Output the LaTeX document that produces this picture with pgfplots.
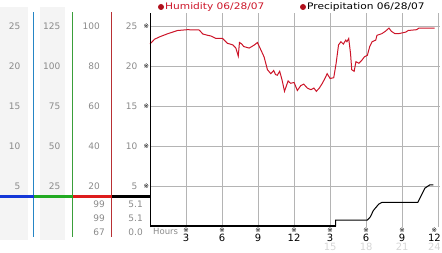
\documentclass[border=0pt]{standalone}
\usepackage{pgfplots}
\pgfplotsset{compat=1.18}
\usepackage{graphicx}
\usepackage{fontspec}
\setmainfont{DejaVu Sans}
\definecolor{hum}{HTML}{CC1428}
\definecolor{panelgray}{HTML}{F4F4F4}
\definecolor{labgray}{HTML}{8A8A8A}
\definecolor{lightlab}{HTML}{D6D6D6}
\definecolor{gridgray}{HTML}{B4B4B4}
\definecolor{vblue}{HTML}{2585C5}
\definecolor{vgreen}{HTML}{3A9E3A}
\definecolor{vred}{HTML}{B83034}
\definecolor{hblue}{HTML}{1438D8}
\definecolor{hgreen}{HTML}{22AA22}
\definecolor{hred}{HTML}{DD1C1C}
\definecolor{ball}{HTML}{B0101C}
\newcommand{\refmk}{{\fontsize{6.5}{6.5}\selectfont ※}}
\begin{document}
\begin{tikzpicture}
\useasboundingbox (0pt,0pt) rectangle (442pt,253pt);
\begin{scope}[x=1pt,y=1pt]
% left panel
\fill[panelgray] (0,13) rectangle (28,246);
\fill[panelgray] (40,13) rectangle (65,246);
\draw[vblue, line width=1pt] (33.5,16) -- (33.5,241);
\draw[vgreen, line width=1pt] (72.5,16) -- (72.5,241);
\draw[vred, line width=1pt] (111.5,16) -- (111.5,241);
\draw[hblue, line width=2.5pt] (0,56.5) -- (33.5,56.5);
\draw[hgreen, line width=2.5pt] (33.5,56.5) -- (72.5,56.5);
\draw[hred, line width=2.5pt] (72.5,56.5) -- (111.5,56.5);
\draw[black, line width=2.5pt] (111.5,56.5) -- (150,56.5);
\tikzset{lab/.style={font=\fontsize{9}{9}\selectfont, text=labgray, inner sep=0pt, anchor=east}}
\foreach \a/\b/\c/\d/\yy in {25/125/100/25/226.5, 20/100/80/20/186.5, 15/75/60/15/146.5, 10/50/40/10/106.5, 5/25/20/5/66.5}{
  \node[lab] at (20.5,\yy) {\a};
  \node[lab] at (60.5,\yy) {\b};
  \node[lab] at (100,\yy) {\c};
  \node[lab] at (137.5,\yy) {\d};
}
\foreach \p/\q/\yy in {99/5.1/49, 99/5.1/34.7, 67/0.0/21}{
  \node[lab] at (105,\yy) {\p};
  \node[lab] at (143,\yy) {\q};
}
% titles
\fill[ball] (161,246) circle (3);
\node[anchor=base west, inner sep=0pt, text=hum, font=\fontsize{9}{9}\selectfont] at (165,243.3) {\scalebox{1.18}[1]{Humidity 06/28/07}};
\fill[ball] (303,246) circle (3);
\node[anchor=base west, inner sep=0pt, text=black, font=\fontsize{9}{9}\selectfont] at (307,243.3) {\scalebox{1.18}[1]{Precipitation 06/28/07}};
\node[anchor=base west, inner sep=0pt, text=labgray, font=\fontsize{8.5}{8.5}\selectfont] at (153,18.2) {Hours};
\end{scope}
\begin{axis}[
  at={(150pt,25.7pt)}, anchor=south west,
  scale only axis, width=290pt, height=214.4pt,
  xmin=0, xmax=24.15, ymin=-0.1, ymax=26.7,
  axis line style={draw=none},
  clip=false,
  xtick={3,6,9,12,15,18,21},
  ytick={5,10,15,20,25},
  grid=major,
  major grid style={gridgray, line width=1pt},
  tick style={draw=none},
  /pgf/number format/assume math mode=true,
  yticklabel={\refmk},
  yticklabel style={anchor=east, inner sep=0pt, xshift=-0.8pt},
  xticklabels={
    {\refmk\\3},
    {\refmk\\6},
    {\refmk\\9},
    {\refmk\\12},
    {\refmk\\3\\[1pt]{\color{lightlab}15}},
    {\refmk\\6\\[1pt]{\color{lightlab}18}},
    {\refmk\\9\\[1pt]{\color{lightlab}21}}},
  xticklabel style={anchor=north, align=center, inner sep=0pt, yshift=-0.5pt,
    font=\fontsize{10}{8.5}\selectfont},
  extra x ticks={24},
  extra x tick labels={{\refmk\\12\\[1pt]{\color{lightlab}24}}},
  extra x tick style={grid=major, major grid style={gridgray, line width=1pt},
    tick style={draw=none},
    xticklabel style={xshift=-3.8pt}},
]
\addplot[hum, line width=1pt] coordinates {
(0,22.8)(0.37,23.4)(0.79,23.7)(1.48,24.1)(2.3,24.5)(3.1,24.6)(4.1,24.56)(4.4,24.06)
(4.8,23.9)(5.1,23.8)(5.5,23.5)(6.05,23.5)(6.45,22.9)(6.9,22.7)(7.15,22.3)(7.35,21.3)
(7.45,23.0)(7.65,22.8)(7.8,22.5)(8.26,22.3)(8.7,22.7)(8.95,23.0)(9.1,22.5)(9.5,21.2)
(9.78,19.6)(10.06,19.1)(10.3,19.5)(10.45,19.0)(10.6,18.9)(10.8,19.4)(11.0,18.3)(11.2,16.9)
(11.5,18.2)(11.7,17.9)(12.0,18.0)(12.27,17.0)(12.55,17.6)(12.8,17.8)(13.1,17.3)(13.4,17.1)
(13.65,17.3)(13.85,16.9)(14.1,17.3)(14.35,17.9)(14.6,18.6)(14.75,19.1)(15.0,18.5)(15.3,18.6)
(15.5,20.4)(15.7,22.7)(15.9,23.1)(16.1,22.8)(16.3,23.3)(16.4,23.1)(16.55,23.5)(16.7,21.6)
(16.8,19.6)(17.0,19.4)(17.15,20.6)(17.4,20.4)(17.65,20.8)(17.85,21.2)(18.1,21.4)(18.3,22.5)
(18.5,23.1)(18.8,23.3)(18.9,23.9)(19.3,24.1)(19.6,24.4)(19.9,24.8)(20.1,24.4)(20.4,24.1)
(20.7,24.1)(21.0,24.2)(21.3,24.3)(21.5,24.5)(22.2,24.6)(22.4,24.8)(23.6,24.8)(23.7,24.8)
};
\addplot[black, line width=2pt] coordinates {(0,0)(15.45,0)};
\addplot[black, line width=1pt] coordinates {
(15.45,0)(15.45,0.8)(18.1,0.8)(18.35,1.2)(18.6,2.0)(19.05,2.8)(19.3,3.0)(22.3,3.0)
(22.6,3.9)(22.9,4.8)(23.3,5.2)(23.6,5.2)
};
\draw[black, line width=1pt] (axis cs:0,-0.1) -- (axis cs:0,26.7);
\end{axis}
\end{tikzpicture}
\end{document}
